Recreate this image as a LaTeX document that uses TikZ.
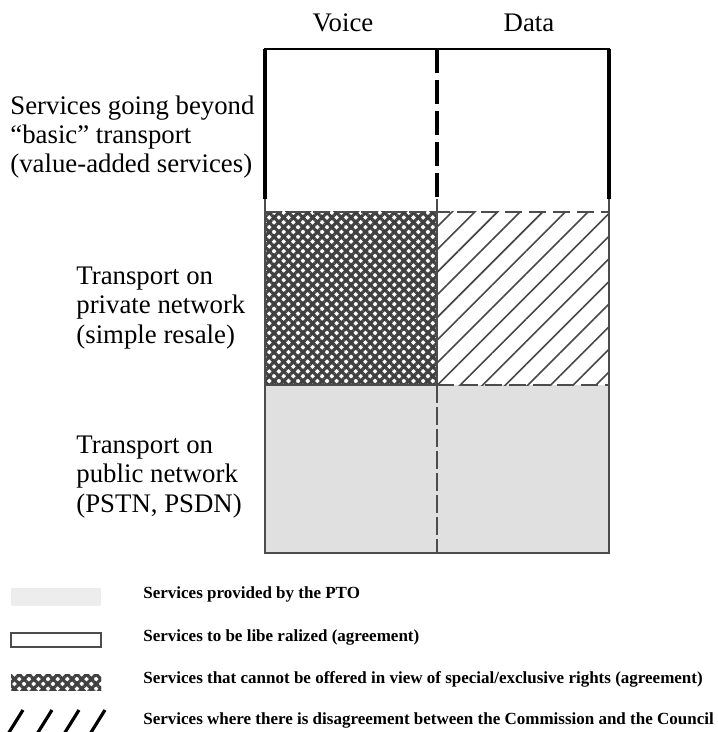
\documentclass[tikz,border=0pt]{standalone}
\usepackage{fontspec}
\setmainfont{Liberation Serif}
\usetikzlibrary{patterns.meta}

\tikzset{
  rowlabel/.style={anchor=west, align=left, inner sep=0pt, font=\fontsize{13.4}{14.6}\selectfont},
  collabel/.style={inner sep=0pt, font=\fontsize{13.4}{14.6}\selectfont},
  legendtext/.style={anchor=west, inner sep=0pt, font=\fontsize{8.5}{10}\selectfont\bfseries},
  crossfill/.style={pattern={Lines[angle=45,distance=3.4pt,line width=1.6pt]}, pattern color=black!75},
  crossfill2/.style={pattern={Lines[angle=-45,distance=3.4pt,line width=1.6pt]}, pattern color=black!75},
  hatchfill/.style={pattern={Lines[angle=45,distance=8pt,line width=0.8pt]}, pattern color=black!72},
  stipple/.style={fill=black!12}
}

\begin{document}
\begin{tikzpicture}[x=0.5pt,y=-0.5pt]
      \def\boxL{265}
      \def\boxM{437}
      \def\boxR{609}
      \def\boxT{49}
      \def\boxB{553}
      \def\rowA{212}
      \def\rowB{385}

      \useasboundingbox (0,0) rectangle (717,732);

      % cells
      \fill[stipple] (\boxL,\rowB) rectangle (\boxR,\boxB);
      \fill[crossfill] (\boxL,\rowA) rectangle (\boxM,\rowB);
      \fill[crossfill2] (\boxL,\rowA) rectangle (\boxM,\rowB);
      \fill[hatchfill] (\boxM,\rowA) rectangle (\boxR,\rowB);

      % frame
      \draw[line width=1.1pt] (\boxL,199) |- (\boxR,\boxT) -- (\boxR,199);
      \draw[line width=1.8pt] (\boxL,\boxT) -- (\boxL,199);
      \draw[line width=1.8pt] (\boxR,\boxT) -- (\boxR,199);
      \draw[line width=1.6pt, dash pattern=on 12pt off 3.5pt] (\boxM,\boxT) -- (\boxM,199);
      \draw[black!70, line width=1pt] (\boxL,199) |- (\boxR,\boxB) -- (\boxR,199);
      \draw[black!70, line width=1pt] (\boxM,199) -- (\boxM,\rowB);
      \draw[black!70, line width=1pt, dash pattern=on 9pt off 2pt] (\boxM,\rowB) -- (\boxM,\boxB);
      \draw[black!70, line width=1pt, dash pattern=on 8.5pt off 3.5pt] (\boxL,\rowA) -- (\boxR,\rowA);
      \draw[black!70, line width=1pt] (\boxL,\rowB) -- (\boxM,\rowB);
      \draw[black!70, line width=1pt, dash pattern=on 8.5pt off 3.5pt] (\boxM,\rowB) -- (\boxR,\rowB);

      \node[collabel] (voice) at (343,23) {Voice};
      \node[collabel] (data) at (529,23) {Data};

      \node[rowlabel] (vas) at (10,137) {Services going beyond\\``basic'' transport\\(value-added services)};
      \node[rowlabel] (priv) at (76,308) {Transport on\\private network\\(simple resale)};
      \node[rowlabel] (pub) at (76,477) {Transport on\\public network\\(PSTN, PSDN)};

      % legend
      \fill[black!7] (11,588) rectangle (101,606);
      \draw[black!70, line width=0.8pt] (11,633) rectangle (101,647);
      \fill[crossfill] (11,674) rectangle (101,690);
      \fill[crossfill2] (11,674) rectangle (101,690);
      \foreach \xs in {8,37,64,90}
        \draw[line width=1.6pt] (\xs,734) -- (\xs+15,710);

      \node[legendtext] (ptotext) at (143,594) {Services provided by the PTO};
      \node[legendtext] (libtext) at (143,637) {Services to be libe ralized (agreement)};
      \node[legendtext] (rightstext) at (143,679) {Services that cannot be offered in view of special/exclusive rights (agreement)};
      \node[legendtext] (disagtext) at (143,720) {Services where there is disagreement between the Commission and the Council};

    \end{tikzpicture}
\end{document}
